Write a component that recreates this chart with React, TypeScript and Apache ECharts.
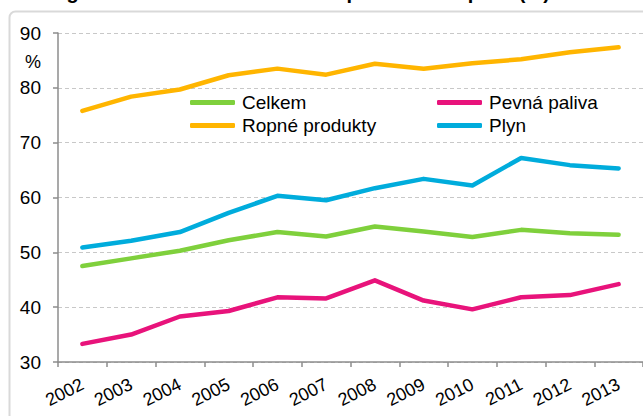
import React, { useEffect, useRef } from "react";
import * as echarts from "echarts";

const years = ["2002", "2003", "2004", "2005", "2006", "2007", "2008", "2009", "2010", "2011", "2012", "2013"];
const celkem = [47.5, 48.9, 50.3, 52.2, 53.7, 52.9, 54.7, 53.8, 52.8, 54.1, 53.5, 53.2];
const pevnaPaliva = [33.3, 35.0, 38.3, 39.3, 41.8, 41.6, 44.9, 41.2, 39.6, 41.8, 42.2, 44.2];
const ropneProdukty = [75.8, 78.4, 79.7, 82.3, 83.5, 82.4, 84.4, 83.5, 84.5, 85.2, 86.5, 87.4];
const plyn = [50.9, 52.1, 53.7, 57.2, 60.3, 59.5, 61.7, 63.4, 62.2, 67.2, 65.9, 65.3];
const yTicks = { min: 30, max: 90, interval: 10 };

const FONT = "Liberation Sans, Arial, sans-serif";

export default function App() {
  const ref = useRef<HTMLDivElement>(null);
  useEffect(() => {
    if (!ref.current) return;
    const chart = echarts.init(ref.current, null, { renderer: "svg" });
    const mk = (name: string, data: number[], color: string) => ({
      name,
      type: "line",
      data,
      symbol: "none",
      smooth: false,
      lineStyle: { color, width: 4.5, cap: "round", join: "round" },
      itemStyle: { color },
    });
    const legendBase = {
      orient: "vertical",
      top: 93,
      icon: "roundRect",
      itemWidth: 45,
      itemHeight: 5,
      itemGap: 4,
      padding: 0,
      textStyle: { fontSize: 19, color: "#000", fontFamily: FONT, padding: [0, 0, 0, 2] },
    };
    chart.setOption({
      animation: false,
      backgroundColor: "#ffffff",
      textStyle: { fontFamily: FONT },
      grid: { left: 58, top: 33, width: 597, height: 329, containLabel: false },
      legend: [
        { ...legendBase, data: ["Celkem", "Ropné produkty"], left: 190 },
        { ...legendBase, data: ["Pevná paliva", "Plyn"], left: 437 },
      ],
      xAxis: {
        type: "category",
        data: years,
        boundaryGap: true,
        axisLine: { lineStyle: { color: "#8c8c8c", width: 1.5 } },
        axisTick: { show: true, length: 5, lineStyle: { color: "#8c8c8c", width: 1.5 } },
        axisLabel: { rotate: 27, margin: 21, fontSize: 18, color: "#000", fontFamily: FONT, interval: 0 },
        splitLine: { show: false },
      },
      yAxis: {
        type: "value",
        min: yTicks.min,
        max: yTicks.max,
        interval: yTicks.interval,
        axisLine: { show: true, lineStyle: { color: "#8c8c8c", width: 1.5 } },
        axisTick: { show: true, length: 5, lineStyle: { color: "#8c8c8c", width: 1.5 } },
        axisLabel: { margin: 17, fontSize: 19, color: "#000", fontFamily: FONT },
        splitLine: { show: true, lineStyle: { color: "#c8c8c8", width: 1, type: [4, 3] } },
      },
      graphic: [
        {
          type: "rect",
          shape: { x: 9.5, y: 11.5, width: 700, height: 500, r: 6 },
          style: { fill: "none", stroke: "#d9d9d9", lineWidth: 2 },
          silent: true,
          z: -10,
        },
        {
          type: "text",
          left: 22,
          top: -18,
          style: {
            text: "Energetická dovozní závislost ČR podle druhů paliv (%)",
            font: "bold 20px Liberation Sans, Arial, sans-serif",
            fill: "#000",
          },
        },
        {
          type: "text",
          left: 25,
          top: 53,
          style: { text: "%", font: "18px Liberation Sans, Arial, sans-serif", fill: "#000" },
        },
      ],
      series: [
        mk("Celkem", celkem, "#7fd03c"),
        mk("Pevná paliva", pevnaPaliva, "#e8137b"),
        mk("Ropné produkty", ropneProdukty, "#ffb500"),
        mk("Plyn", plyn, "#00acdc"),
      ],
    });
    return () => chart.dispose();
  }, []);
  return <div ref={ref} style={{ width: 643, height: 416, position: "absolute", left: 0, top: 0 }} />;
}
